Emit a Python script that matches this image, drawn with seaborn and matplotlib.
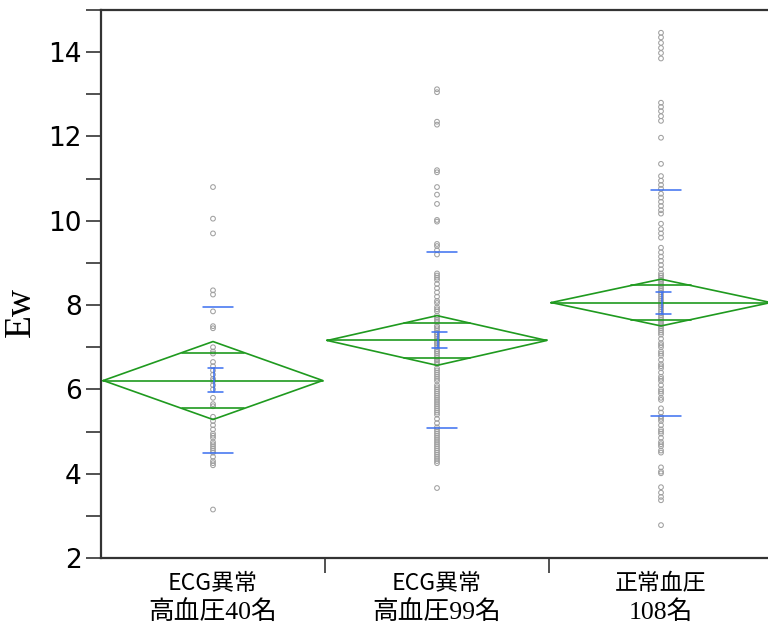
import numpy as np
import pandas as pd
import seaborn as sns
import matplotlib.pyplot as plt
from matplotlib.ticker import MultipleLocator
import matplotlib.transforms as mtransforms

sns.set_style("white")
plt.rcParams['font.family'] = ['DejaVu Sans']

# group labels (two lines each)
line1 = ['ECG異常', 'ECG異常', '正常血圧']
line2 = ['高血圧40名', '高血圧99名', '108名']
groups = ['g1', 'g2', 'g3']

g1_vals = [10.8, 10.05, 9.7, 8.35, 8.25, 7.85, 7.5, 7.45, 7.0, 6.9, 6.85, 6.65, 6.55,
           6.45, 6.35, 6.25, 6.2, 6.1, 6.0, 5.8, 5.65, 5.6, 5.35, 5.25, 5.15, 5.05,
           4.95, 4.9, 4.85, 4.75, 4.7, 4.65, 4.6, 4.55, 4.5, 4.4, 4.3, 4.25, 4.2, 3.15]
g2_vals = [13.12, 13.05, 12.35, 12.28, 11.2, 11.15, 10.8, 10.62, 10.4, 10.02, 9.98, 9.4,
           9.3, 8.75, 8.7, 8.6, 8.5, 8.4, 8.3, 8.2, 8.05, 7.95, 7.85, 7.75, 7.7, 7.6,
           7.5, 7.45, 7.4, 7.35, 7.3, 7.25, 7.2, 7.15, 7.1, 7.05, 7.0, 6.95, 6.9, 6.85,
           6.8, 6.75, 6.7, 6.65, 6.6, 6.5, 6.45, 6.4, 6.3, 6.25, 6.2, 6.1, 6.0, 5.95,
           5.9, 5.8, 5.75, 5.7, 5.6, 5.55, 5.5, 5.45, 5.4, 5.3, 5.2, 5.1, 5.05, 5.0,
           4.95, 4.9, 4.85, 4.8, 4.75, 4.7, 4.65, 4.6, 4.55, 4.5, 4.45, 4.4, 4.35, 4.3,
           4.25, 3.66, 7.5, 7.3, 7.1, 6.9, 6.7, 6.35, 6.05, 5.85, 5.65, 8.1, 7.9, 7.65,
           9.2, 9.45, 8.65]
g3_vals = [14.46, 14.35, 14.22, 14.1, 13.98, 13.85, 12.8, 12.7, 12.6, 12.48, 12.37, 11.97,
           11.35, 11.06, 10.95, 10.85, 10.76, 10.64, 10.55, 10.45, 10.35, 10.25, 10.17,
           9.93, 9.8, 9.7, 9.6, 9.36, 9.25, 9.15, 9.05, 8.95, 8.85, 8.75, 8.7, 8.65, 8.6,
           8.55, 8.5, 8.45, 8.4, 8.35, 8.3, 8.25, 8.2, 8.15, 8.1, 8.05, 8.0, 7.95, 7.9,
           7.85, 7.8, 7.75, 7.7, 7.65, 7.6, 7.55, 7.5, 7.4, 7.3, 7.2, 7.1, 7.0, 6.9, 6.8,
           6.7, 6.6, 6.5, 6.4, 6.3, 6.2, 6.1, 6.0, 5.9, 5.8, 5.75, 7.35, 7.05, 6.85, 6.55,
           6.25, 5.95, 5.55, 5.45, 5.35, 5.25, 5.15, 5.05, 4.95, 4.85, 4.75, 4.65, 4.55,
           4.5, 5.3, 5.0, 4.7, 4.15, 4.05, 4.01, 3.68, 3.55, 3.45, 3.37, 2.78, 8.0, 7.45]

# summary values
means = [6.21, 7.16, 8.06]
ci_half = [0.925, 0.59, 0.555]
overlap_half = [0.66, 0.415, 0.405]
sd_hi = [7.96, 9.27, 10.73]
sd_lo = [4.49, 5.08, 5.36]
se_hi = [6.50, 7.37, 8.32]
se_lo = [5.93, 6.97, 7.80]

df = pd.DataFrame({
    'group': ['g1'] * len(g1_vals) + ['g2'] * len(g2_vals) + ['g3'] * len(g3_vals),
    'Ew': g1_vals + g2_vals + g3_vals,
})

fig = plt.figure(figsize=(7.68, 6.28), dpi=100)
ax = fig.add_axes([101 / 768, 70 / 628, 672 / 768, 548 / 628])

sns.stripplot(data=df, x='group', y='Ew', order=groups, jitter=False, ax=ax,
              color='#a0a0a0', facecolor='none', edgecolor='#a0a0a0',
              linewidth=0.75, size=3.4, marker='o', zorder=2)

green = '#1f9a1f'
blue = '#3a6ff0'
for i, m in enumerate(means):
    h = ci_half[i]
    w = 0.49
    ax.plot([i - w, i, i + w, i, i - w], [m, m + h, m, m - h, m],
            color=green, lw=1.2, zorder=3)
    ax.plot([i - w, i + w], [m, m], color=green, lw=1.2, zorder=3)
    for s in (1, -1):
        o = overlap_half[i]
        dx = w * (1 - o / h)
        ax.plot([i - dx, i + dx], [m + s * o, m + s * o], color=green, lw=1.2, zorder=3)
    # std dev lines
    for yv in (sd_hi[i], sd_lo[i]):
        ax.plot([i - 0.045, i + 0.09], [yv, yv], color=blue, lw=1.1, zorder=4)
    # mean error bars
    for yv in (se_hi[i], se_lo[i]):
        ax.plot([i - 0.022, i + 0.045], [yv, yv], color=blue, lw=1.1, zorder=4)
    ax.plot([i + 0.003, i + 0.003], [se_lo[i], se_hi[i]], color=blue, lw=1.1, zorder=4)

ax.set_xlim(-0.5, 2.5)
ax.set_ylim(2, 15)
ax.yaxis.set_major_locator(MultipleLocator(2))
ax.yaxis.set_minor_locator(MultipleLocator(1))
ax.tick_params(axis='y', which='both', direction='out', length=11, width=1.2,
               color='#333333', labelsize=19, labelcolor='black', pad=3, left=True)
ax.set_xticks([0.5, 1.5])
ax.set_xticklabels(['', ''])
ax.tick_params(axis='x', which='major', direction='out', length=11, width=1.2,
               color='#333333', pad=2, bottom=True)
ax.set_xlabel('')
ax.set_ylabel('')
fig.text(21 / 768, 1 - 312 / 628, 'Ew', rotation=90, ha='center', va='center',
         family=['Liberation Serif'], fontsize=27, color='black')

for sp in ax.spines.values():
    sp.set_color('#333333')
    sp.set_linewidth(1.6)

trans = mtransforms.blended_transform_factory(ax.transData, fig.transFigure)
for i in range(3):
    ax.text(i, 1 - 583 / 628, line1[i], transform=trans, ha='center', va='center',
            fontsize=16.5, color='black', family=['Noto Sans CJK JP', 'DejaVu Sans'])
    ax.text(i, 1 - 612 / 628, line2[i], transform=trans, ha='center', va='center',
            fontsize=18.5, color='black', family=['Liberation Serif', 'Noto Sans CJK JP'])

fig.savefig('out.png', dpi=100)
